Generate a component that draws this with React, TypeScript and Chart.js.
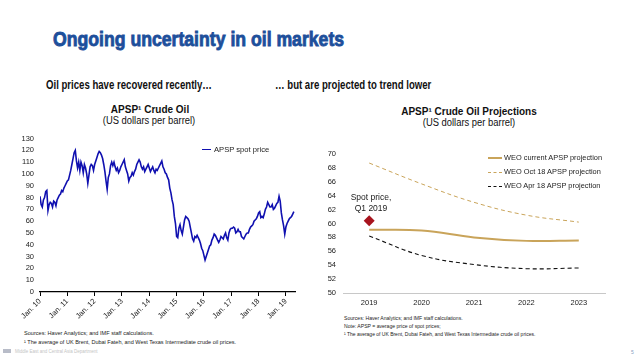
import React, { useEffect, useRef } from "react";
import { Chart, registerables } from "chart.js";

Chart.register(...registerables);

// ---------- Left chart data: APSP spot price, semi-monthly, Jan 2010 – Apr 2019 ----------
const spotTickYears = ["10", "11", "12", "13", "14", "15", "16", "17", "18", "19"];
const spot2010 = [81, 74, 72, 78, 80, 85, 86, 69, 74, 76, 75, 72, 77, 76, 73, 78, 80, 82, 83, 86, 85, 88, 90, 92];
const spot2011 = [94, 95, 99, 103, 108, 113, 118, 120, 111, 105, 110, 103, 110, 107, 101, 108, 105, 100, 92, 99, 106, 108, 107, 103];
const spot2012 = [108, 111, 114, 117, 119, 118, 116, 113, 108, 102, 94, 87, 97, 100, 107, 110, 107, 110, 106, 103, 105, 101, 103, 106];
const spot2013 = [108, 110, 112, 106, 103, 100, 94, 97, 98, 101, 99, 102, 104, 108, 110, 112, 110, 106, 104, 106, 102, 104, 106, 108];
const spot2014 = [105, 102, 104, 106, 103, 101, 104, 103, 105, 107, 109, 111, 106, 104, 101, 100, 97, 95, 88, 84, 78, 74, 64, 58];
const spot2015 = [47, 46, 54, 57, 52, 49, 55, 61, 64, 63, 62, 60, 55, 50, 45, 43, 47, 46, 48, 46, 44, 41, 37, 35];
const spot2016 = [31, 27, 30, 33, 36, 39, 40, 44, 46, 49, 48, 46, 44, 42, 44, 47, 46, 45, 48, 50, 46, 44, 50, 53];
const spot2017 = [54, 54, 55, 54, 50, 51, 53, 51, 51, 47, 46, 45, 47, 49, 50, 50, 53, 55, 56, 57, 60, 61, 62, 64];
const spot2018 = [67, 68, 63, 64, 63, 66, 70, 72, 76, 74, 72, 72, 74, 70, 71, 73, 75, 76, 81, 77, 67, 61, 56, 49];
const spot2019 = [55, 58, 60, 62, 63, 64, 66, 68];
const spotPrice = [...spot2010, ...spot2011, ...spot2012, ...spot2013, ...spot2014, ...spot2015, ...spot2016, ...spot2017, ...spot2018, ...spot2019];

// ---------- Right chart data: projections ----------
const projYears = ["2019", "2020", "2021", "2022", "2023"];
const weoCurrent = [59.1, 59.0, 58.0, 57.5, 57.55];
const weoOct18 = [68.7, 65.7, 63.05, 61.2, 60.2];
const weoApr18 = [58.2, 55.4, 54.1, 53.5, 53.6];
const spotQ1_2019 = 60.4;

const FONT = "'Liberation Sans', Arial, sans-serif";
const GOLD = "#c9a45a";
const BLUE_LINE = "#1010b0";

type TProps = {
  x: number; y: number; size: number; children: React.ReactNode;
  color?: string; weight?: string | number; sx?: number; align?: "left" | "center"; extra?: React.CSSProperties;
};
function T({ x, y, size, children, color = "#111", weight = "normal", sx = 1, align = "left", extra = {} }: TProps) {
  const tx = align === "center" ? "-50%" : "0";
  return (
    <div
      style={{
        position: "absolute", left: x, top: y, fontSize: size, lineHeight: 1, whiteSpace: "nowrap",
        fontFamily: FONT, color, fontWeight: weight as any,
        transform: `translate(${tx}, -50%) scaleX(${sx})`, transformOrigin: align === "center" ? "center" : "left",
        ...extra,
      }}
    >
      {children}
    </div>
  );
}

function LeftChart() {
  const ref = useRef<HTMLCanvasElement>(null);
  useEffect(() => {
    const pts = spotPrice.map((v, i) => ({ x: i * 0.5, y: v }));
    const chart = new Chart(ref.current!, {
      type: "line",
      data: {
        datasets: [
          { label: "APSP spot price", data: pts, borderColor: BLUE_LINE, borderWidth: 1.6, pointRadius: 0, tension: 0, fill: false },
        ],
      },
      options: {
        animation: false, responsive: false, devicePixelRatio: 1,
        layout: { padding: { top: 8, right: 5, left: 0, bottom: 0 } },
        plugins: { legend: { display: false }, tooltip: { enabled: false } },
        scales: {
          x: {
            type: "linear", min: 0, max: 112,
            afterBuildTicks: (s: any) => { s.ticks = spotTickYears.map((_, i) => ({ value: i * 12 })); },
            afterFit: (s: any) => { s.height = 36; },
            ticks: {
              autoSkip: false, minRotation: 45, maxRotation: 45, padding: 1,
              color: "#222", font: { family: FONT, size: 7.5 },
              callback: (v: any) => "Jan. " + spotTickYears[Math.round(Number(v) / 12)],
            },
            grid: { display: true, drawOnChartArea: false, drawTicks: true, tickLength: 4, color: "#000", lineWidth: 1 },
            border: { display: true, color: "#000", width: 1.2 },
          },
          y: {
            min: 0, max: 130,
            afterFit: (s: any) => { s.width = 40; },
            ticks: { stepSize: 10, autoSkip: false, padding: 6, color: "#222", font: { family: FONT, size: 7.5 } },
            grid: { display: false, drawTicks: false },
            border: { display: false },
          },
        },
      },
    });
    return () => chart.destroy();
  }, []);
  return <canvas ref={ref} width={300} height={200} style={{ position: "absolute", left: 0, top: 128, width: 300, height: 200 }} />;
}

function RightChart() {
  const ref = useRef<HTMLCanvasElement>(null);
  useEffect(() => {
    const chart = new Chart(ref.current!, {
      type: "line",
      data: {
        labels: projYears,
        datasets: [
          { label: "WEO current APSP projection", data: weoCurrent, borderColor: GOLD, borderWidth: 2, pointRadius: 0, tension: 0.4, fill: false },
          { label: "WEO Oct 18 APSP projection", data: weoOct18, borderColor: GOLD, borderWidth: 1, borderDash: [4, 3], pointRadius: 0, tension: 0.4, fill: false },
          { label: "WEO Apr 18 APSP projection", data: weoApr18, borderColor: "#111", borderWidth: 1.1, borderDash: [4, 3], pointRadius: 0, tension: 0.4, fill: false },
          {
            label: "Spot price, Q1 2019", data: [spotQ1_2019, null, null, null, null], showLine: false,
            pointStyle: "rectRot", pointRadius: 5.5, backgroundColor: "#a8141e", borderColor: "#a8141e", borderWidth: 0,
          },
        ],
      },
      options: {
        animation: false, responsive: false, devicePixelRatio: 1,
        layout: { padding: { top: 14, right: 25, left: 0, bottom: 0 } },
        plugins: { legend: { display: false }, tooltip: { enabled: false } },
        scales: {
          x: {
            type: "category", offset: true,
            afterFit: (s: any) => { s.height = 20; },
            ticks: { padding: 5, color: "#222", font: { family: FONT, size: 7.5 } },
            grid: { display: false, drawTicks: false },
            border: { display: true, color: "#c8c8c8", width: 1 },
          },
          y: {
            min: 50, max: 70,
            afterFit: (s: any) => { s.width = 33; },
            ticks: { stepSize: 2, autoSkip: false, padding: 7, color: "#222", font: { family: FONT, size: 7.5 } },
            grid: { display: false, drawTicks: false },
            border: { display: false },
          },
        },
      },
    });
    return () => chart.destroy();
  }, []);
  return <canvas ref={ref} width={320} height={173} style={{ position: "absolute", left: 310, top: 140, width: 320, height: 173 }} />;
}

function LegendLine({ x, y, color, dash, width, len = 14 }: { x: number; y: number; color: string; dash?: boolean; width: number; len?: number }) {
  return (
    <div style={{ position: "absolute", left: x, top: y - width / 2, width: len, height: 0, borderTop: `${width}px ${dash ? "dashed" : "solid"} ${color}` }} />
  );
}

export default function App() {
  return (
    <div style={{ position: "fixed", left: 0, top: 0, width: 638, height: 359, background: "#fff", overflow: "hidden", fontFamily: FONT }}>
      <T x={53} y={38} size={21} weight="bold" color="#1d4f9b" sx={0.84} extra={{ WebkitTextStroke: "0.9px #1d4f9b" }}>
        Ongoing uncertainty in oil markets
      </T>
      <T x={46} y={85} size={12} weight="bold" color="#111" sx={0.8}>Oil prices have recovered recently…</T>
      <T x={275} y={85} size={12} weight="bold" color="#111" sx={0.8}>… but are projected to trend lower</T>

      <T x={150} y={110} size={10} weight="bold" align="center">APSP¹ Crude Oil</T>
      <T x={149} y={121} size={10} align="center" sx={0.94}>(US dollars per barrel)</T>

      <T x={469} y={112} size={10} weight="bold" align="center">APSP¹ Crude Oil Projections</T>
      <T x={469} y={123} size={10} align="center" sx={0.94}>(US dollars per barrel)</T>

      <LeftChart />
      <RightChart />

      <LegendLine x={202} y={150} color={BLUE_LINE} width={1.5} len={9} />
      <T x={214} y={150} size={7.6} color="#222">APSP spot price</T>

      <LegendLine x={488} y={158} color={GOLD} width={2} />
      <T x={504} y={158} size={7.4} color="#222">WEO current APSP projection</T>
      <LegendLine x={488} y={172} color={GOLD} width={1} dash />
      <T x={504} y={172} size={7.4} color="#222">WEO Oct 18 APSP projection</T>
      <LegendLine x={488} y={186} color="#111" width={1} dash />
      <T x={504} y={186} size={7.4} color="#222">WEO Apr 18 APSP projection</T>

      <T x={371} y={197} size={8.5} align="center" color="#222">Spot price,</T>
      <T x={371} y={208} size={8.5} align="center" color="#222">Q1 2019</T>

      <T x={24} y={333} size={6} sx={0.93} color="#222">Sources: Haver Analytics; and IMF staff calculations.</T>
      <T x={24} y={342} size={6} sx={0.92} color="#222">¹ The average of UK Brent, Dubai Fateh, and West Texas Intermediate crude oil prices.</T>

      <T x={344} y={318} size={6} sx={0.85} color="#222">Sources: Haver Analytics; and IMF staff calculations.</T>
      <T x={344} y={326} size={6} sx={0.85} color="#222">Note: APSP = average price of spot prices;</T>
      <T x={344} y={334} size={6} sx={0.83} color="#222">¹ The average of UK Brent, Dubai Fateh, and West Texas Intermediate crude oil prices.</T>

      <div style={{ position: "absolute", left: 3, top: 349, width: 8, height: 4, background: "#b8bcc8" }} />
      <T x={15} y={351} size={5} sx={0.9} color="#c4c4c4">Middle East and Central Asia Department</T>
      <T x={631} y={352} size={5} color="#8aa0c0">5</T>
    </div>
  );
}
